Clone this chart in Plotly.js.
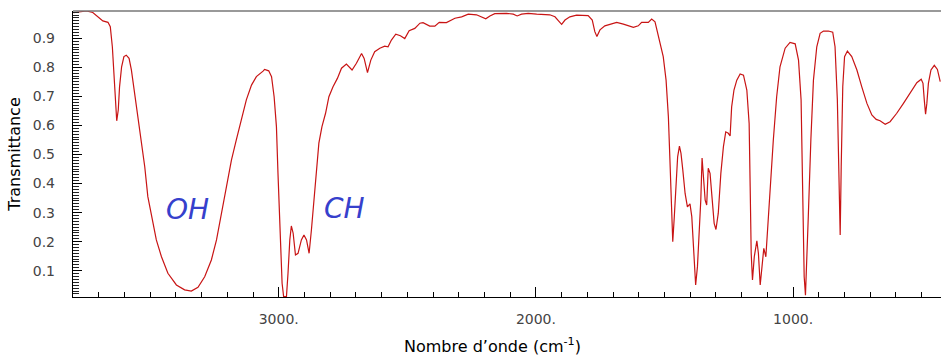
<!DOCTYPE html>
<html><head><meta charset="utf-8">
<script src="https://cdn.plot.ly/plotly-3.0.1.min.js"></script>
<style>html,body{margin:0;padding:0;background:#fff}</style>
</head><body><div id="chart" style="width:941px;height:356px"></div>
<script>
const wavenumber = [3798,3748,3723,3697,3684,3664,3655,3647,3642,3635,3630,3624,3619,3611,3602,3593,3582,3573,3560,3547,3534,3521,3509,3491,3476,3456,3431,3398,3366,3340,3314,3288,3262,3242,3223,3204,3184,3165,3145,3126,3106,3087,3061,3055,3039,3028,3018,3009,3003,2996,2987,2981,2970,2964,2957,2951,2944,2935,2925,2912,2902,2892,2882,2873,2863,2853,2844,2832,2818,2805,2789,2772,2756,2737,2715,2698,2678,2668,2655,2642,2627,2607,2588,2575,2562,2545,2527,2510,2493,2471,2451,2439,2413,2393,2376,2348,2315,2289,2263,2231,2211,2195,2179,2160,2114,2088,2073,2056,2030,1997,1946,1926,1913,1900,1887,1868,1842,1797,1781,1771,1763,1751,1732,1712,1686,1660,1634,1621,1602,1589,1563,1550,1537,1530,1518,1505,1494,1485,1479,1474,1468,1462,1455,1449,1442,1436,1429,1420,1411,1401,1394,1388,1379,1372,1365,1359,1354,1349,1342,1336,1330,1323,1315,1307,1300,1291,1281,1271,1262,1252,1245,1239,1230,1219,1206,1193,1180,1171,1167,1163,1158,1151,1141,1135,1128,1121,1114,1106,1100,1090,1077,1064,1051,1031,1012,992,979,969,962,957,952,947,941,931,921,908,895,882,863,846,837,828,822,820,817,813,807,800,789,772,752,733,713,694,677,662,642,623,597,571,545,519,502,495,490,485,480,474,464,451,439,428];
const transmittance = [0.988,0.994,0.989,0.969,0.960,0.955,0.940,0.871,0.791,0.676,0.616,0.653,0.733,0.802,0.837,0.842,0.831,0.791,0.711,0.630,0.550,0.458,0.355,0.275,0.206,0.148,0.091,0.051,0.034,0.030,0.043,0.079,0.137,0.206,0.298,0.389,0.481,0.550,0.619,0.688,0.739,0.768,0.787,0.793,0.788,0.768,0.699,0.596,0.435,0.240,0.057,0.011,0.011,0.091,0.206,0.254,0.229,0.154,0.160,0.206,0.223,0.206,0.160,0.240,0.343,0.458,0.539,0.596,0.642,0.699,0.733,0.762,0.797,0.811,0.791,0.814,0.848,0.831,0.782,0.825,0.854,0.866,0.873,0.871,0.894,0.914,0.909,0.899,0.926,0.934,0.952,0.954,0.942,0.942,0.955,0.954,0.969,0.974,0.983,0.981,0.974,0.967,0.977,0.985,0.986,0.983,0.977,0.983,0.986,0.983,0.981,0.974,0.961,0.948,0.963,0.974,0.980,0.978,0.963,0.923,0.906,0.929,0.943,0.948,0.955,0.949,0.943,0.938,0.943,0.955,0.955,0.966,0.957,0.929,0.883,0.837,0.756,0.630,0.481,0.343,0.200,0.286,0.389,0.492,0.529,0.504,0.447,0.366,0.320,0.330,0.286,0.183,0.051,0.114,0.229,0.343,0.488,0.424,0.343,0.326,0.453,0.435,0.343,0.263,0.242,0.298,0.435,0.527,0.578,0.573,0.564,0.664,0.722,0.756,0.777,0.773,0.722,0.607,0.389,0.160,0.068,0.148,0.203,0.160,0.051,0.126,0.177,0.148,0.240,0.389,0.550,0.699,0.802,0.866,0.886,0.881,0.825,0.688,0.378,0.079,0.016,0.126,0.286,0.550,0.756,0.871,0.917,0.925,0.925,0.921,0.871,0.688,0.458,0.320,0.223,0.458,0.733,0.837,0.856,0.837,0.791,0.733,0.676,0.636,0.621,0.616,0.604,0.613,0.642,0.676,0.713,0.747,0.759,0.745,0.688,0.639,0.676,0.745,0.791,0.807,0.793,0.751];
const xTickVals = [3000, 2000, 1000];
const xTickText = ["3000.", "2000.", "1000."];
const yTickVals = [0.1,0.2,0.3,0.4,0.5,0.6,0.7,0.8,0.9];
const yTickText = ["0.1","0.2","0.3","0.4","0.5","0.6","0.7","0.8","0.9"];
const bandLabels = ["OH", "CH"];
const bandX = [3354, 2744];
const bandY = [0.309, 0.3135];

const trace = {
  x: wavenumber, y: transmittance, type: 'scatter', mode: 'lines',
  line: {color: '#c81414', width: 1.2}, hoverinfo: 'skip', showlegend: false
};
const annotations = bandLabels.map((t, i) => ({
  x: bandX[i], y: bandY[i], xref: 'x', yref: 'y', text: t, showarrow: false,
  font: {family: 'DejaVu Sans', size: 28, color: '#3640cc', style: 'italic'}
}));
annotations.push({
  x: 0.4836, y: -0.168, xref: 'paper', yref: 'paper', xanchor: 'center', yanchor: 'middle',
  text: 'Nombre d\u2019onde (cm<sup>-1</sup>)', showarrow: false,
  font: {family: 'DejaVu Sans', size: 16, color: '#000'}
});
const layout = {
  width: 941, height: 356,
  margin: {l: 73, r: 0, t: 11, b: 59},
  paper_bgcolor: '#fff', plot_bgcolor: '#fff',
  font: {family: 'DejaVu Sans', size: 14, color: '#444'},
  xaxis: {
    range: [3800, 425], showgrid: false, zeroline: false,
    showline: true, linecolor: '#000', linewidth: 1.2,
    tickmode: 'array', tickvals: xTickVals, ticktext: xTickText,
    ticks: 'inside', ticklen: 10, tickcolor: '#000', tickwidth: 1,
    ticklabelstandoff: 9,
    minor: {dtick: 100, tick0: 0, ticks: 'inside', ticklen: 5, tickcolor: '#000', tickwidth: 1},
    tickfont: {size: 14, color: '#444'}
  },
  yaxis: {
    range: [0.0095, 0.994], showgrid: false, zeroline: false,
    showline: true, linecolor: '#000', linewidth: 1.2,
    tickmode: 'array', tickvals: yTickVals, ticktext: yTickText,
    ticks: 'inside', ticklen: 9, tickcolor: '#000', tickwidth: 1,
    ticklabelstandoff: 14,
    minor: {tickmode: 'linear', dtick: 0.01, tick0: 0, ticks: 'inside', ticklen: 6, tickcolor: '#222', tickwidth: 1, showgrid: false},
    tickfont: {size: 14, color: '#444'},
    title: {text: 'Transmittance', font: {family: 'DejaVu Sans', size: 16, color: '#000'}, standoff: 8}
  },
  shapes: [{type: 'line', xref: 'paper', yref: 'paper', x0: 0, x1: 1, y0: 1, y1: 1,
            line: {color: '#777', width: 1.5}}],
  annotations: annotations
};
Plotly.newPlot('chart', [trace], layout, {staticPlot: true, displayModeBar: false});
</script></body></html>
